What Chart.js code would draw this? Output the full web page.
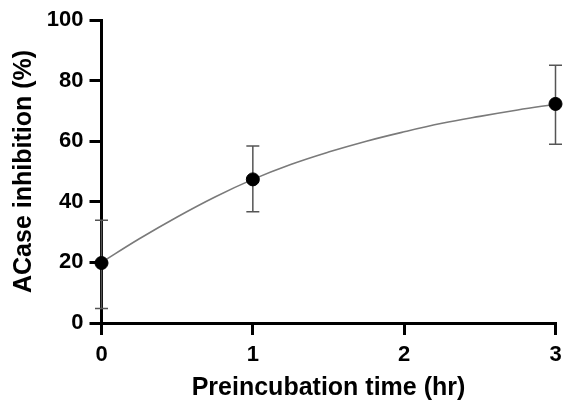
<!DOCTYPE html>
<html>
<head>
<meta charset="utf-8">
<script src="https://cdn.jsdelivr.net/npm/chart.js@4/dist/chart.umd.min.js"></script>
<style>
  html, body { margin: 0; padding: 0; background: #fff; }
  #wrap { width: 563px; height: 403px; }
</style>
</head>
<body>
<div id="wrap"><canvas id="chart"></canvas></div>
<script>
// measured points (mean and error bar ends)
const timeHr = [0, 1, 3];
const inhibition = [19.8, 47.4, 72.3];
const errLow = [4.8, 36.7, 59.0];
const errHigh = [33.9, 58.4, 85.1];

// fitted curve
const curveX = [0, 0.25, 0.5, 0.75, 1, 1.25, 1.5, 1.75, 2, 2.25, 2.5, 2.75, 3];
const curveY = [20.0, 27.8, 35.0, 41.6, 47.4, 52.3, 56.4, 60.0, 63.1, 65.9, 68.2, 70.3, 72.2];

const xTicks = [0, 1, 2, 3];
const yTicks = [0, 20, 40, 60, 80, 100];

const FONT = 'Liberation Sans, Arial, Helvetica, sans-serif';

// error bars drawn under the points
const errorBars = {
    id: 'errorBars',
    beforeDatasetsDraw(chart) {
        const ctx = chart.ctx;
        const xs = chart.scales.x;
        const ys = chart.scales.y;
        ctx.save();
        ctx.strokeStyle = '#555';
        ctx.lineWidth = 1.5;
        timeHr.forEach((t, i) => {
            const px = xs.getPixelForValue(t);
            const top = ys.getPixelForValue(errHigh[i]);
            const bot = ys.getPixelForValue(errLow[i]);
            ctx.beginPath();
            ctx.moveTo(px, top);
            ctx.lineTo(px, bot);
            ctx.moveTo(px - 6.5, top);
            ctx.lineTo(px + 6.5, top);
            ctx.moveTo(px - 6.5, bot);
            ctx.lineTo(px + 6.5, bot);
            ctx.stroke();
        });
        ctx.restore();
    }
};

const ctx = document.getElementById('chart').getContext('2d');
new Chart(ctx, {
    type: 'scatter',
    data: {
        datasets: [
            {
                type: 'line',
                data: curveX.map((x, i) => ({ x: x, y: curveY[i] })),
                borderColor: '#7a7a7a',
                borderWidth: 1.6,
                pointRadius: 0,
                tension: 0.4,
                fill: false,
                clip: false,
                order: 2
            },
            {
                data: timeHr.map((x, i) => ({ x: x, y: inhibition[i] })),
                backgroundColor: '#000',
                borderColor: '#000',
                pointRadius: 6.5,
                showLine: false,
                clip: false,
                order: 1
            }
        ]
    },
    options: {
        responsive: true,
        maintainAspectRatio: false,
        animation: false,
        layout: { padding: { left: 0, right: 6, top: 20, bottom: 0 } },
        plugins: {
            legend: { display: false },
            tooltip: { enabled: false }
        },
        scales: {
            x: {
                type: 'linear',
                min: 0,
                max: 3,
                afterBuildTicks: axis => { axis.ticks = xTicks.map(v => ({ value: v })); },
                afterFit: axis => { axis.height = 80; axis.paddingLeft = 0; axis.paddingRight = 0; },
                grid: { display: true, drawOnChartArea: false, tickLength: 12, lineWidth: 3, color: '#000' },
                border: { display: true, color: '#000', width: 3 },
                ticks: { color: '#000', padding: 7, font: { family: FONT, size: 22, weight: 'bold', lineHeight: 1.2 } },
                title: {
                    display: true,
                    text: 'Preincubation time (hr)',
                    color: '#000',
                    padding: { top: 0, bottom: 0 },
                    font: { family: FONT, size: 25, weight: 'bold', lineHeight: 1.2 }
                }
            },
            y: {
                min: 0,
                max: 100,
                afterBuildTicks: axis => { axis.ticks = yTicks.map(v => ({ value: v })); },
                afterFit: axis => { axis.width = 101.5; },
                grid: { display: true, drawOnChartArea: false, tickLength: 12, lineWidth: 3, color: '#000' },
                border: { display: true, color: '#000', width: 3 },
                ticks: { color: '#000', padding: 6, font: { family: FONT, size: 22, weight: 'bold', lineHeight: 1.2 } },
                title: {
                    display: true,
                    text: 'ACase inhibition (%)',
                    color: '#000',
                    padding: { top: 9, bottom: 0 },
                    font: { family: FONT, size: 25, weight: 'bold', lineHeight: 1.2 }
                }
            }
        }
    },
    plugins: [errorBars]
});
</script>
</body>
</html>
